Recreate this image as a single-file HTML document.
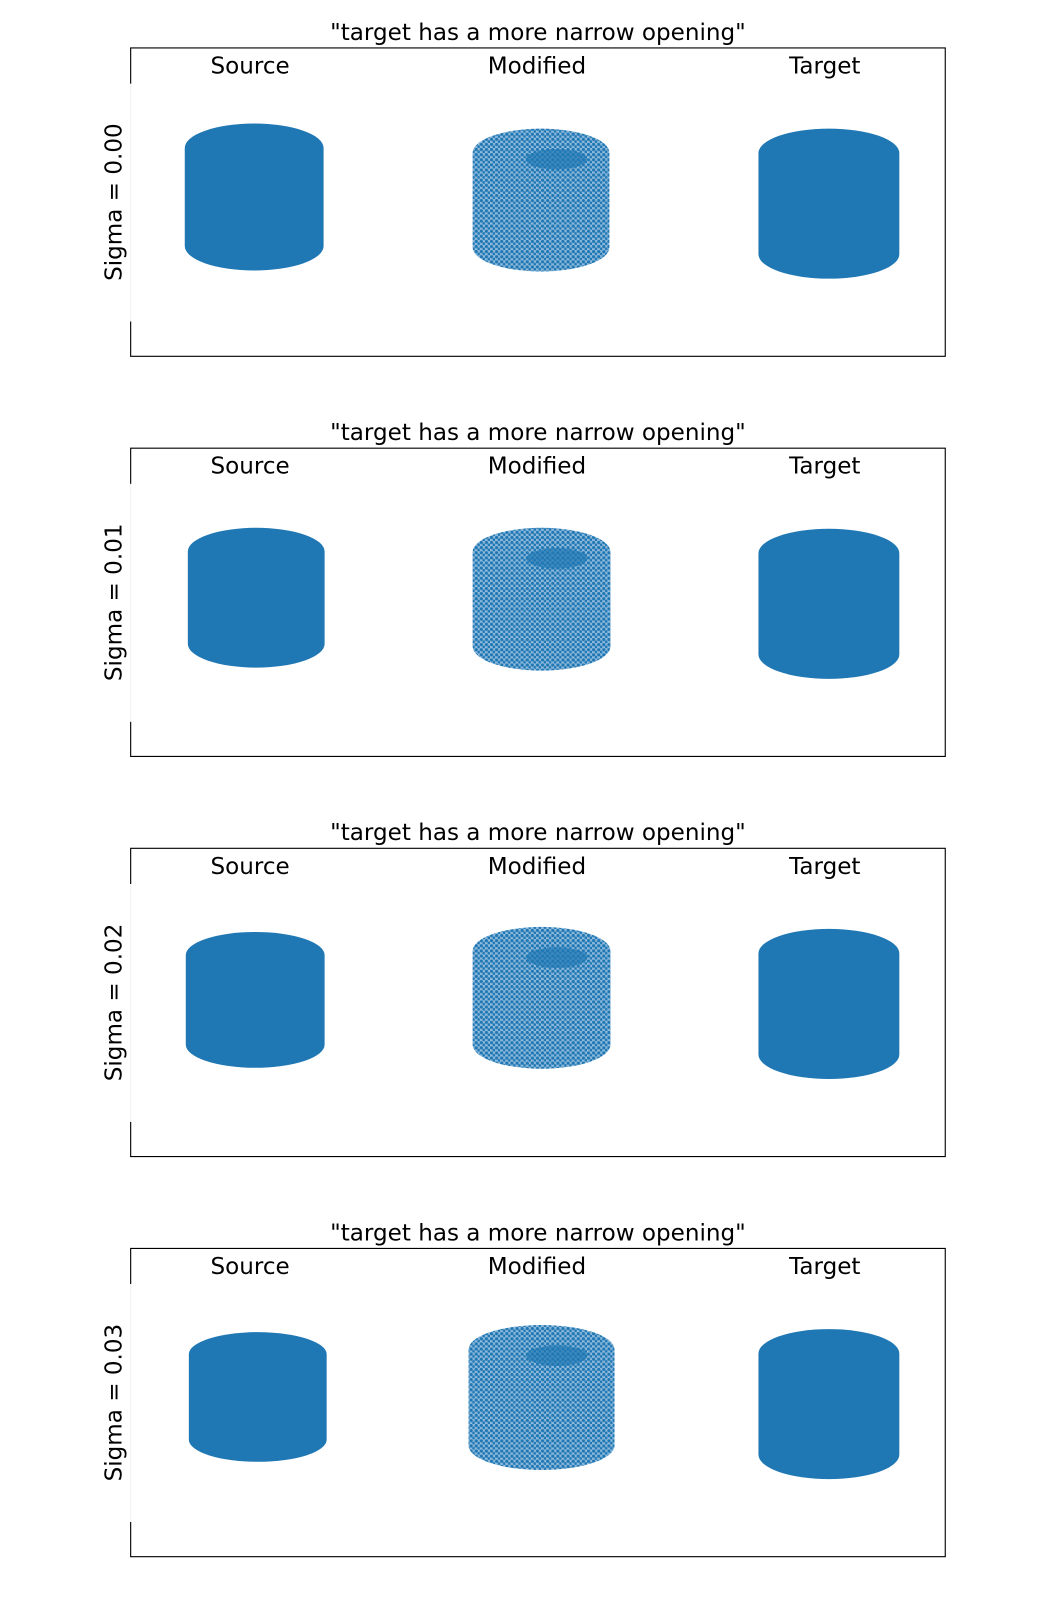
<!DOCTYPE html>
<html><head><meta charset="utf-8">
<style>
html,body{margin:0;padding:0;background:#fff;}
svg{display:block;font-family:"DejaVu Sans","Liberation Sans",sans-serif;}
</style></head>
<body>
<svg id="fig" width="1050" height="1600" viewBox="0 0 1050 1600" xmlns="http://www.w3.org/2000/svg">
<defs>
<pattern id="sparse" width="5" height="5" patternUnits="userSpaceOnUse">
<rect width="5" height="5" fill="#8fbadb"/>
<circle cx="1.5" cy="1.5" r="1.6" fill="#1f77b4"/>
<circle cx="4" cy="3.8" r="1.4" fill="#1f77b4"/>
</pattern>
</defs>
<g id="root" transform="scale(1.0208)"></g>
</svg>
<script>
// Data
const sigmas = ["0.00","0.01","0.02","0.03"];
const columnLabels = ["Source","Modified","Target"];
const titleText = '"target has a more narrow opening"';
// cloud extents per panel: [left, right, top, bottom] in panel-relative units (panel top = 0)
const sourceClouds = [[181,317,74,218],[184,318,78,215],[182,318,82,215],[185,320,82,209]];
const modifiedClouds = [[463,597,79,219],[463,598,78,218],[463,598,77,216],[459,602,75,217]];
const targetClouds = [[743,881,79,226],[743,881,79,226],[743,881,79,226],[743,881,79,226]];

const NS = "http://www.w3.org/2000/svg";
const root = document.getElementById('root');
function mk(tag, attrs, parent){
  const e = document.createElementNS(NS, tag);
  for (const k in attrs) e.setAttribute(k, attrs[k]);
  (parent||root).appendChild(e);
  return e;
}
const panelTop0 = 47, panelStep = 392, panelH = 302, left = 128, right = 926;
const colX = [245, 526, 808];
const FS = 22.6;

function cylinderPath(b){
  const [l,r,t,bt] = b;
  const rx = (r-l)/2, ry = Math.min(24,(bt-t)*0.17);
  return `M${l},${t+ry} A${rx},${ry} 0 0 1 ${r},${t+ry} L${r},${bt-ry} A${rx},${ry} 0 0 1 ${l},${bt-ry} Z`;
}

sigmas.forEach((s, i) => {
  const top = panelTop0 + i*panelStep;
  const g = mk('g', {});
  
  

  const title = mk('text', {x:527, y:top-8, 'font-size':FS, 'text-anchor':'middle', fill:'#000'}, g);
  title.textContent = titleText;
  
  

  const fr = mk('path', {d:`M${left},${top+35} L${left},${top} L${right},${top} L${right},${top+panelH} L${left},${top+panelH} L${left},${top+268}`, fill:'none', stroke:'#000', 'stroke-width':1.1}, g);
  
  
  const gapLine = mk('line', {x1:left, y1:top+35, x2:left, y2:top+268, stroke:'#f0f0f0', 'stroke-width':1}, g);
  
  

  columnLabels.forEach((c, j) => {
    const t = mk('text', {x:colX[j], y:top+25, 'font-size':FS, 'text-anchor':'middle', fill:'#000'}, g);
    t.textContent = c;
    
    
  });

  const yl = mk('text', {x:0, y:0, 'font-size':FS, 'text-anchor':'middle', fill:'#000', transform:`translate(119,${top+151}) rotate(-90)`}, g);
  yl.textContent = 'Sigma = ' + s;
  
  

  const shift = b => [b[0], b[1], b[2]+top, b[3]+top];

  const src = mk('path', {d:cylinderPath(shift(sourceClouds[i])), fill:'#1f77b4'}, g);
  
  

  const mb = shift(modifiedClouds[i]);
  const mod = mk('path', {d:cylinderPath(mb), fill:'url(#sparse)'}, g);
  
  
  const rim = mk('ellipse', {cx:(mb[0]+mb[1])/2+15, cy:mb[2]+30, rx:30, ry:10, fill:'#1f77b4', opacity:0.7}, g);
  
  

  const tgt = mk('path', {d:cylinderPath(shift(targetClouds[i])), fill:'#1f77b4'}, g);
  
  
});
</script>
</body></html>
